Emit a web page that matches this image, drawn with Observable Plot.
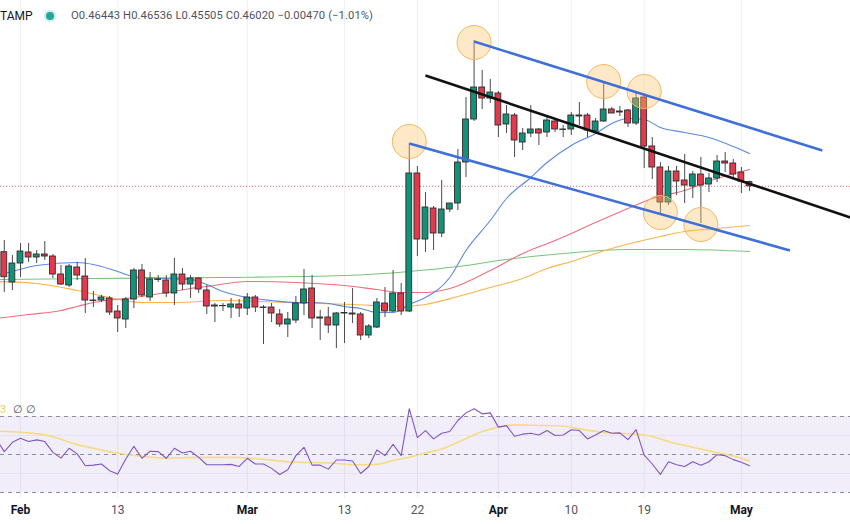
<!DOCTYPE html>
<html><head><meta charset="utf-8">
<script src="https://cdn.jsdelivr.net/npm/d3@7"></script>
<script src="https://cdn.jsdelivr.net/npm/@observablehq/plot@0.6"></script>
<style>
html,body{margin:0;padding:0;background:#fff;overflow:hidden;width:850px;height:524px}
#wrap{position:relative;width:850px;height:524px;font-family:Roboto,"Noto Sans",sans-serif}
#main{position:absolute;left:0;top:0}
#rsi{position:absolute;left:0;top:398px}
#hdr{position:absolute;left:0;top:8px;height:16px;line-height:16px;white-space:nowrap;color:#131722}
#hdr .sym{position:absolute;left:0;top:0;font-size:12px}
#hdr .dot{position:absolute;left:46px;top:4px;width:8px;height:8px;border-radius:50%;background:#26a69a;box-shadow:0 0 0 2px #cdeeea}
#hdr .ohlc{position:absolute;left:71px;top:0;font-size:11.2px;color:#50535e;letter-spacing:0.1px}
#rsileg{position:absolute;left:0;top:403px;font-size:11px;white-space:nowrap}
#rsileg .y{color:#e8cf5a;position:absolute;left:0}
#rsileg .g{color:#50535e;position:absolute}
</style></head><body>
<div id="wrap">
  <div id="main"></div>
  <div id="rsi"></div>
  <div id="hdr"><span class="sym" id="sym"></span><span class="dot"></span><span class="ohlc" id="ohlc"></span></div>
  <div id="rsileg"><span class="y">3</span><span class="g" style="left:13px">∅</span><span class="g" style="left:26px">∅</span></div>
</div>
<script>
// ---------- data ----------
const symbol = "TAMP";
const firstDay = "2023-01-30";
const open = [0.3943,0.364,
 0.383,0.394,0.389,0.392,0.390,0.372,0.361,0.379,0.370,0.346,0.346,0.348,0.335,0.327,0.347,0.376,0.349,0.367,0.366,0.353,0.372,0.362,0.368,0.356,0.341,0.3405,0.339,0.342,
 0.338,0.349,0.339,0.339,0.332,0.322,0.326,0.343,0.358,0.329,0.329,0.321,0.3335,0.333,0.332,0.311,0.319,0.343,0.335,0.353,0.335,0.473,0.407,0.438,0.413,0.437,0.443,0.484,0.527,0.559,0.548,
 0.553,0.522,0.531,0.504,0.513,0.517,0.514,0.525,0.517,0.517,0.531,0.531,0.515,0.525,0.537,0.535,0.536,0.523,0.549,0.500,0.479,0.444,0.475,0.466,0.460,0.472,0.462,0.468,0.485,0.483,
 0.474,0.46443];
const high = [0.406,0.391,
 0.403,0.403,0.396,0.405,0.392,0.381,0.382,0.384,0.388,0.355,0.351,0.350,0.341,0.349,0.378,0.382,0.374,0.371,0.371,0.388,0.378,0.371,0.369,0.361,0.343,0.343,0.348,0.347,
 0.353,0.351,0.341,0.343,0.337,0.334,0.350,0.377,0.371,0.336,0.339,0.334,0.344,0.358,0.334,0.322,0.348,0.359,0.376,0.363,0.503,0.480,0.454,0.440,0.466,0.443,0.497,0.549,0.606,0.576,0.567,
 0.555,0.541,0.533,0.518,0.541,0.518,0.529,0.526,0.521,0.534,0.544,0.533,0.528,0.564,0.539,0.540,0.537,0.553,0.553,0.509,0.484,0.480,0.480,0.492,0.475,0.489,0.473,0.491,0.494,0.487,
 0.479,0.46536];
const low = [0.354,0.356,
 0.369,0.384,0.383,0.386,0.368,0.361,0.359,0.366,0.333,0.339,0.344,0.331,0.314,0.318,0.338,0.349,0.345,0.364,0.349,0.341,0.356,0.348,0.353,0.332,0.324,0.335,0.328,0.329,
 0.331,0.334,0.302,0.324,0.319,0.309,0.323,0.331,0.318,0.306,0.313,0.298,0.303,0.323,0.306,0.308,0.318,0.329,0.334,0.331,0.334,0.390,0.394,0.396,0.409,0.434,0.436,0.469,0.525,0.537,0.543,
 0.509,0.513,0.489,0.496,0.509,0.501,0.509,0.514,0.509,0.511,0.521,0.509,0.513,0.524,0.533,0.530,0.519,0.521,0.478,0.467,0.433,0.441,0.451,0.443,0.448,0.423,0.454,0.464,0.474,0.469,
 0.453,0.45505];
const close = [0.3693,0.383,
 0.395,0.389,0.392,0.390,0.372,0.362,0.380,0.371,0.346,0.3455,0.349,0.334,0.328,0.347,0.376,0.351,0.367,0.3665,0.353,0.372,0.362,0.368,0.357,0.340,0.340,0.3403,0.342,0.338,
 0.349,0.339,0.3385,0.333,0.322,0.327,0.343,0.357,0.328,0.328,0.321,0.333,0.333,0.332,0.311,0.320,0.344,0.335,0.353,0.335,0.473,0.407,0.439,0.413,0.437,0.443,0.484,0.527,0.559,0.548,0.554,
 0.521,0.532,0.506,0.513,0.517,0.513,0.526,0.517,0.5165,0.531,0.530,0.516,0.525,0.537,0.533,0.534,0.523,0.548,0.500,0.479,0.444,0.475,0.465,0.461,0.472,0.461,0.468,0.485,0.483,0.472,
 0.4649,0.4602];

// moving averages
const maBlueDates = ["2023-01-29","2023-01-31","2023-02-03","2023-02-08","2023-02-10","2023-02-13","2023-02-15","2023-02-19","2023-02-22","2023-02-24","2023-02-26","2023-03-01","2023-03-04","2023-03-07","2023-03-09","2023-03-11","2023-03-13","2023-03-15","2023-03-17","2023-03-19","2023-03-20","2023-03-21","2023-03-23","2023-03-26","2023-03-28","2023-03-31","2023-04-02","2023-04-05","2023-04-07","2023-04-10","2023-04-13","2023-04-15","2023-04-17","2023-04-19","2023-04-21","2023-04-24","2023-04-27","2023-04-30","2023-05-02"];
const maBlueValues = [0.371,0.375,0.381,0.384,0.382,0.375,0.370,0.368,0.367,0.362,0.355,0.349,0.346,0.344,0.344,0.343,0.340,0.338,0.334,0.334,0.337,0.342,0.349,0.369,0.396,0.426,0.448,0.469,0.484,0.501,0.513,0.523,0.528,0.527,0.519,0.514,0.509,0.500,0.493];
const maRedDates = ["2023-01-29","2023-02-02","2023-02-06","2023-02-08","2023-02-10","2023-02-15","2023-02-19","2023-02-22","2023-02-24","2023-03-01","2023-03-07","2023-03-13","2023-03-17","2023-03-20","2023-03-23","2023-03-26","2023-03-31","2023-04-04","2023-04-08","2023-04-13","2023-04-17","2023-04-20","2023-04-24","2023-04-28","2023-05-02"];
const maRedValues = [0.328,0.332,0.336,0.340,0.344,0.349,0.354,0.358,0.360,0.365,0.364,0.361,0.357,0.354,0.354,0.358,0.376,0.393,0.406,0.424,0.438,0.448,0.456,0.468,0.477];
const maOrangeDates = ["2023-01-29","2023-02-03","2023-02-08","2023-02-12","2023-02-16","2023-02-20","2023-02-26","2023-03-06","2023-03-14","2023-03-20","2023-03-23","2023-03-27","2023-03-31","2023-04-04","2023-04-07","2023-04-10","2023-04-15","2023-04-21","2023-04-24","2023-04-28","2023-05-02"];
const maOrangeValues = [0.365,0.363,0.356,0.349,0.344,0.344,0.346,0.344,0.342,0.340,0.342,0.350,0.359,0.368,0.378,0.385,0.398,0.410,0.415,0.418,0.421];
const maGreenDates = ["2023-01-29","2023-02-10","2023-02-26","2023-03-13","2023-03-21","2023-03-27","2023-04-02","2023-04-09","2023-04-17","2023-04-24","2023-05-02"];
const maGreenValues = [0.367,0.368,0.369,0.371,0.375,0.380,0.387,0.393,0.397,0.397,0.395];

// RSI (14) and its moving average
const rsiFirstDay = "2023-01-29";
const rsiValues = [58.0,51.5,56.4,
 58.5,56.8,57.7,56.8,51.1,48.1,53.3,50.3,44.1,44.4,45.0,41.5,39.7,47.6,54.3,48.0,51.7,51.5,48.0,53.3,50.8,51.7,48.5,44.6,44.6,44.6,44.8,43.7,
 48.0,45.0,45.0,42.7,39.5,42.0,49.4,53.8,44.4,44.4,42.3,47.1,47.1,46.6,40.0,43.7,52.4,49.4,55.4,49.4,74.1,58.9,62.6,58.2,61.2,62.1,67.9,71.9,74.1,71.4,71.9,
 64.4,65.2,59.6,60.7,61.2,60.3,62.6,60.0,60.3,63.0,62.6,58.2,60.3,62.6,61.2,61.4,57.8,63.1,49.7,45.0,39.5,46.2,44.6,43.7,46.2,44.4,46.2,49.9,49.4,47.3,
 45.9,44.1];
const rsiMaDates = ["2023-01-29","2023-02-03","2023-02-05","2023-02-08","2023-02-11","2023-02-13","2023-02-16","2023-02-19","2023-02-23","2023-02-27","2023-03-03","2023-03-06","2023-03-11","2023-03-15","2023-03-17","2023-03-19","2023-03-21","2023-03-23","2023-03-25","2023-03-27","2023-03-30","2023-04-01","2023-04-03","2023-04-05","2023-04-09","2023-04-11","2023-04-14","2023-04-18","2023-04-20","2023-04-22","2023-04-25","2023-04-28","2023-04-30","2023-05-02"];
const rsiMaValues = [62.3,61.0,59.3,55.2,52.4,50.8,49.0,48.1,48.5,48.5,47.5,46.2,45.5,44.6,44.8,46.8,48.6,50.8,52.9,56.4,62.1,64.4,65.6,65.4,65.0,63.5,61.6,60.8,59.5,56.8,53.8,51.0,49.2,46.7];
const rsiLevels = [70, 50, 30];
const rsiGridLevels = [40, 60];

// axis ticks
const tickDates = ["2023-02-01","2023-02-13","2023-03-01","2023-03-13","2023-03-22","2023-04-01","2023-04-10","2023-04-19","2023-05-01"];
const tickLabels = ["Feb","13","Mar","13","22","Apr","10","19","May"];

// drawings: trend channel, mid line, highlighted swing points
const channelUpper = {from: "2023-03-29", fromPrice: 0.605, to: "2023-05-11", toPrice: 0.496};
const channelLower = {from: "2023-03-21", fromPrice: 0.503, to: "2023-05-07", toPrice: 0.396};
const midLine = {from: "2023-03-23", fromPrice: 0.571, to: "2023-05-14T12:00", toPrice: 0.429};
const swingDates = ["2023-03-29","2023-03-21","2023-04-14","2023-04-19","2023-04-21","2023-04-26"];
const swingPrices = [0.604,0.505,0.565,0.555,0.434,0.422];

// ---------- build ----------
const parse = s => new Date(s.length > 10 ? s + "Z" : s + "T00:00Z");
const day0 = parse(firstDay);
const candles = open.map((o, i) => ({
  date: d3.utcDay.offset(day0, i), open: o, high: high[i], low: low[i], close: close[i]
}));
const rsiStart = parse(rsiFirstDay);
const rsi = rsiValues.map((v, i) => ({date: d3.utcDay.offset(rsiStart, i), value: v}));
const series = (ds, vs) => ds.map((d, i) => ({date: parse(d), value: vs[i]}));
const maBlue = series(maBlueDates, maBlueValues);
const maRed = series(maRedDates, maRedValues);
const maOrange = series(maOrangeDates, maOrangeValues);
const maGreen = series(maGreenDates, maGreenValues);
const rsiMa = series(rsiMaDates, rsiMaValues);
const ticks = tickDates.map((d, i) => ({date: parse(d), label: tickLabels[i], month: isNaN(+tickLabels[i])}));
const links = [channelUpper, channelLower, midLine].map((l, i) => ({
  x1: parse(l.from), y1: l.fromPrice, x2: parse(l.to), y2: l.toPrice, kind: i < 2 ? "channel" : "mid"
}));
const swings = swingDates.map((d, i) => ({date: parse(d), price: swingPrices[i]}));

const xDomain = [new Date(Date.UTC(2023, 0, 29, 12, 45)), new Date(Date.UTC(2023, 4, 14, 11, 20))];
const last = candles[candles.length - 1];
const prev = candles[candles.length - 2];
const UP = "#13927a", DOWN = "#e23a4c";
const halfBody = 0.36 * 864e5;

const main = Plot.plot({
  width: 850, height: 398, margin: 0,
  style: {background: "transparent", fontFamily: "Roboto, sans-serif"},
  x: {type: "utc", domain: xDomain, axis: null},
  y: {domain: [0.248, 0.646], axis: null},
  color: {type: "identity"},
  marks: [
    Plot.ruleX(ticks, {x: "date", stroke: "#eef0f4", strokeWidth: 1}),
    Plot.ruleY([last.close], {stroke: "#f23645", strokeWidth: 1, strokeDasharray: "1,2", strokeOpacity: 0.8}),
    Plot.line(maGreen, {x: "date", y: "value", stroke: "#79c37c", strokeWidth: 1.1, curve: "monotone-x", clip: true}),
    Plot.line(maOrange, {x: "date", y: "value", stroke: "#f7b54e", strokeWidth: 1.1, curve: "monotone-x", clip: true}),
    Plot.line(maRed, {x: "date", y: "value", stroke: "#ef6f7e", strokeWidth: 1.1, curve: "monotone-x", clip: true}),
    Plot.line(maBlue, {x: "date", y: "value", stroke: "#5a8ae0", strokeWidth: 1.1, curve: "monotone-x", clip: true}),
    Plot.ruleX(candles, {x: "date", y1: "low", y2: "high", stroke: "#4b4b4b", strokeWidth: 1}),
    Plot.rect(candles, {
      x1: d => new Date(+d.date - halfBody), x2: d => new Date(+d.date + halfBody),
      y1: d => Math.min(d.open, d.close), y2: d => Math.max(d.open, d.close),
      fill: d => d.close >= d.open ? UP : DOWN, stroke: "#2e2e2e", strokeWidth: 0.9
    }),
    Plot.dot(swings, {x: "date", y: "price", r: 17, fill: "#f9c56f", fillOpacity: 0.38, stroke: "#f3b860", strokeWidth: 1}),
    Plot.link(links, {x1: "x1", y1: "y1", x2: "x2", y2: "y2",
      stroke: d => d.kind === "channel" ? "#3f6fd8" : "#111111", strokeWidth: 2.6, clip: true})
  ]
});
document.getElementById("main").append(main);

const rsiPlot = Plot.plot({
  width: 850, height: 126, marginTop: 0, marginLeft: 0, marginRight: 0, marginBottom: 26,
  style: {background: "transparent", fontFamily: "Roboto, sans-serif", fontSize: "12px"},
  x: {type: "utc", domain: xDomain, axis: null},
  y: {domain: [26.84, 79.47], axis: null},
  marks: [
    Plot.ruleX(ticks, {x: "date", stroke: "#eef0f4", strokeWidth: 1}),
    Plot.rect([rsiLevels], {y1: d => d3.min(d), y2: d => d3.max(d), fill: "#7e57c2", fillOpacity: 0.1}),
    Plot.ruleY(rsiGridLevels, {stroke: "#e6e1f1", strokeWidth: 1}),
    Plot.ruleY(rsiLevels, {stroke: "#8a8d96", strokeWidth: 1, strokeDasharray: "4,4"}),
    Plot.line(rsiMa, {x: "date", y: "value", stroke: "#f5dc82", strokeWidth: 1.6, curve: "monotone-x", clip: true}),
    Plot.line(rsi, {x: "date", y: "value", stroke: "#7e57c2", strokeWidth: 1.1, clip: true}),
    Plot.axisX(ticks.filter(t => t.month).map(t => t.date), {
      tickSize: 0, tickPadding: 7, fontSize: 12, fontWeight: "bold", fill: "#131722",
      tickFormat: d => ticks.find(t => +t.date === +d).label
    }),
    Plot.axisX(ticks.filter(t => !t.month).map(t => t.date), {
      tickSize: 0, tickPadding: 7, fontSize: 12, fill: "#50535e",
      tickFormat: d => ticks.find(t => +t.date === +d).label
    })
  ]
});
document.getElementById("rsi").append(rsiPlot);

const f5 = v => v.toFixed(5);
const chg = last.close - prev.close;
const minus = s => s.replace("-", "\u2212");
document.getElementById("sym").textContent = symbol;
document.getElementById("ohlc").textContent =
  `O${f5(last.open)}  H${f5(last.high)}  L${f5(last.low)}  C${f5(last.close)}  ${minus(f5(chg))} (${minus((chg / prev.close * 100).toFixed(2))}%)`;
</script>
</body></html>
